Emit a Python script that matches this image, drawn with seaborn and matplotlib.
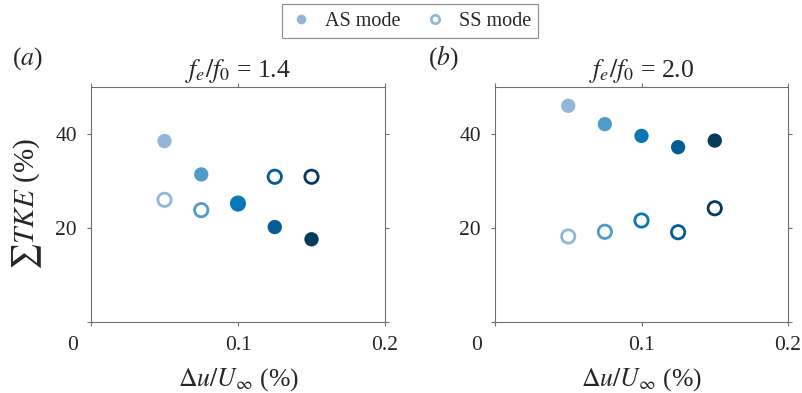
import numpy as np
import pandas as pd
import matplotlib
matplotlib.use("Agg")
import matplotlib.pyplot as plt
import matplotlib.transforms as mtransforms
from matplotlib.lines import Line2D
import seaborn as sns

# forcing amplitude du/U_inf (%)
du = [0.05, 0.075, 0.1, 0.125, 0.15]
# sum of TKE (%) for f_e/f_0 = 1.4
as_a = [38.5, 31.4, 25.2, 20.2, 17.6]
ss_a = [26.0, 23.8, 25.2, 30.9, 30.9]
# sum of TKE (%) for f_e/f_0 = 2.0
as_b = [46.0, 42.1, 39.6, 37.2, 38.6]
ss_b = [18.2, 19.2, 21.6, 19.1, 24.2]

titles = [r"$f_e/f_0$ = 1.4", r"$f_e/f_0$ = 2.0"]
panel_tags = [r"($\it{a}$)", r"($\it{b}$)"]
colors = ["#93b6d8", "#4f9ccb", "#0a78b8", "#055c94", "#053a5a"]

sns.set_style("ticks")
plt.rcParams["font.family"] = ["Liberation Serif", "DejaVu Serif"]
plt.rcParams["mathtext.fontset"] = "stix"

fig = plt.figure(figsize=(8.02, 3.93), dpi=100)
ax_a = fig.add_axes([91 / 802, 71 / 393, 294 / 802, 235 / 393])
ax_b = fig.add_axes([495 / 802, 71 / 393, 293 / 802, 235 / 393])

palette = dict(zip(du, colors))
panels = [(ax_a, as_a, ss_a), (ax_b, as_b, ss_b)]
for i, (ax, as_vals, ss_vals) in enumerate(panels):
    df_ss = pd.DataFrame({"du": du, "tke": ss_vals})
    df_as = pd.DataFrame({"du": du, "tke": as_vals})
    # open rings first so the filled marker sits on top where they overlap
    sns.scatterplot(data=df_ss, x="du", y="tke", hue="du", palette=palette,
                    s=92, linewidth=2.0, legend=False, ax=ax, zorder=3)
    ring = ax.collections[-1]
    ring.set_edgecolors(ring.get_facecolors())
    ring.set_facecolors("none")
    sns.scatterplot(data=df_as, x="du", y="tke", hue="du", palette=palette,
                    s=106, linewidth=0, legend=False, ax=ax, zorder=4)

    ax.set_xlim(0, 0.2)
    ax.set_ylim(0, 50)
    ax.set_xticks([0, 0.1, 0.2])
    ax.set_xticklabels(["0", "0.1", "0.2"])
    ax.set_yticks([0, 20, 40])
    ax.set_yticklabels(["", "20", "40"])
    ax.tick_params(direction="out", top=True, right=True, length=3,
                   width=0.8, color="#707070", labelsize=15.5, pad=7)
    for sp in ax.spines.values():
        sp.set_visible(True)
        sp.set_color("#707070")
        sp.set_linewidth(0.8)
    # the "0" label sits left of the corner
    lab0 = ax.get_xticklabels()[0]
    lab0.set_transform(lab0.get_transform() +
                       mtransforms.ScaledTranslation(-18 / 100, 0, fig.dpi_scale_trans))
    ax.set_xlabel(r"$\Delta u/U_\infty$ (%)", fontsize=18.5, labelpad=8)
    ax.set_ylabel("")
    ax.set_title(titles[i], fontsize=18.5, pad=7)
    ax.text(-0.27 if i == 0 else -0.23, 1.065, panel_tags[i], transform=ax.transAxes,
            fontsize=18.5, ha="left", va="bottom")

ax_a.set_ylabel(r"$\sum TKE$ (%)", fontsize=21, labelpad=8)

handles = [
    Line2D([], [], ls="none", marker="o", markersize=7, markerfacecolor=colors[0],
           markeredgewidth=0, label="AS mode"),
    Line2D([], [], ls="none", marker="o", markersize=6, markerfacecolor="none",
           markeredgecolor=colors[0], markeredgewidth=2, label="SS mode"),
]
leg = fig.legend(handles=handles, ncol=2, loc="center", bbox_to_anchor=(410 / 802, 1 - 21 / 393),
                 fontsize=14.5, frameon=True, fancybox=False, edgecolor="#707070",
                 handletextpad=0.6, columnspacing=1.1, borderpad=0.35, handlelength=1.2)
leg.get_frame().set_linewidth(0.8)

fig.savefig("out.png", dpi=100)
